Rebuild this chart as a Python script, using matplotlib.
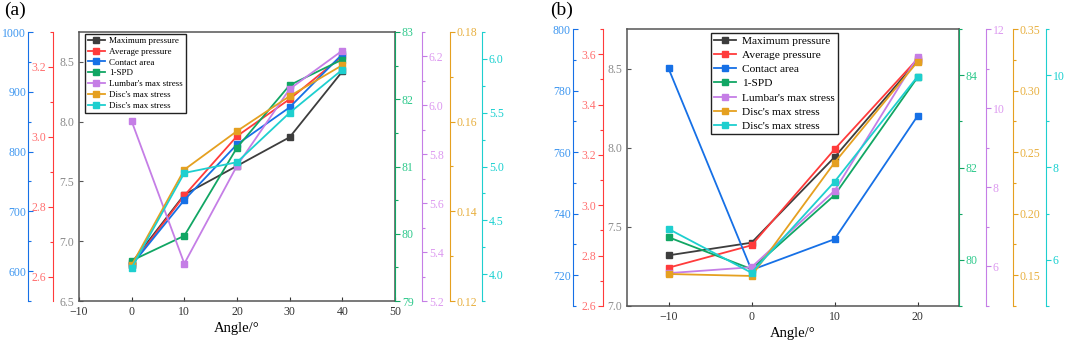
import matplotlib
matplotlib.use('Agg')
import matplotlib.pyplot as plt
from matplotlib.ticker import MultipleLocator, FormatStrFormatter

plt.rcParams['font.family'] = ['Liberation Serif', 'DejaVu Serif']

names = ['Maximum pressure', 'Average pressure', 'Contact area', '1-SPD',
         "Lumbar's max stress", "Disc's max stress", "Disc's max stress"]
line_colors = ['#3d3d3d', '#ff3b3b', '#1670e6', '#11a664', '#c57ee6', '#e5a020', '#1ecfcf']
label_colors = ['#8a8a8a', '#ff7070', '#3d96f0', '#2ec98c', '#dd9af0', '#e8b040', '#19d0d0']

# (a)
angle_a = [0, 10, 20, 30, 40]
max_p_a = [6.82, 7.39, 7.63, 7.87, 8.42]
avg_p_a = [2.633, 2.832, 3.002, 3.108, 3.231]
area_a = [610, 719, 812, 874, 963]
spd_a = [79.6, 79.97, 81.28, 82.21, 82.59]
lumbar_a = [5.935, 5.353, 5.753, 6.067, 6.224]
disc1_a = [0.128, 0.1493, 0.1579, 0.1657, 0.1726]
disc2_a = [4.06, 4.94, 5.04, 5.50, 5.90]

# (b)
angle_b = [-10, 0, 10, 20]
max_p_b = [7.32, 7.40, 7.94, 8.55]
avg_p_b = [2.752, 2.841, 3.222, 3.581]
area_b = [787.2, 721.7, 731.7, 771.7]
spd_b = [80.49, 79.80, 81.40, 83.95]
lumbar_b = [5.83, 5.98, 7.91, 11.29]
disc1_b = [0.151, 0.1494, 0.2414, 0.3234]
disc2_b = [6.67, 5.72, 7.69, 9.97]


def make_panel(fig, rect, x, ys, xlim, xticks, axes_cfg, leg_anchor, leg_fs, leg_sp):
    ax = fig.add_axes(rect)
    ax.set_xlim(*xlim)
    ax.set_xticks(xticks)
    ax.tick_params(axis='x', direction='in', length=3, labelsize=8.5, colors='#333333')
    for s in ax.spines.values():
        s.set_color('#555555')
        s.set_linewidth(1.1)
    ax.set_xlabel('Angle/°', fontsize=10.5, labelpad=3)

    handles = []
    axs = []
    for i, (y, cfg) in enumerate(zip(ys, axes_cfg)):
        lo, hi, major, minor, side, pos, fmt, tdir = cfg
        if i == 0:
            a = ax
        else:
            a = ax.twinx()
            for k in ['top', 'bottom']:
                a.spines[k].set_visible(False)
            other = 'right' if side == 'left' else 'left'
            a.spines[other].set_visible(False)
            a.spines[side].set_visible(True)
            a.spines[side].set_position(('axes', pos))
            a.spines[side].set_color(line_colors[i])
            a.yaxis.set_ticks_position(side)
            a.yaxis.set_label_position(side)
            a.patch.set_visible(False)
        a.set_ylim(lo, hi)
        a.yaxis.set_major_locator(MultipleLocator(major))
        if minor:
            a.yaxis.set_minor_locator(MultipleLocator(minor))
        a.yaxis.set_major_formatter(FormatStrFormatter(fmt))
        if i == 0:
            a.tick_params(axis='y', direction=tdir, length=3, labelsize=8.5,
                          colors='#555555', labelcolor=label_colors[0])
        else:
            a.tick_params(axis='y', which='major', direction=tdir, length=3.5, width=0.8,
                          labelsize=8.5, color=line_colors[i], labelcolor=label_colors[i], pad=1.5)
            a.tick_params(axis='y', which='minor', direction=tdir, length=2, width=0.8,
                          color=line_colors[i])
        ln, = a.plot(x, y, color=line_colors[i], lw=1.3, marker='s', ms=4.5, clip_on=False)
        handles.append(ln)
        axs.append(a)

    axs[-1].legend(handles, names, loc='upper left', bbox_to_anchor=leg_anchor,
                   fontsize=leg_fs, frameon=True, fancybox=False, edgecolor='#222222',
                   framealpha=1, borderpad=0.3, labelspacing=leg_sp, handlelength=1.9,
                   handletextpad=0.5, borderaxespad=0)
    return ax


fig = plt.figure(figsize=(10.65, 3.43), dpi=100)

cfg_a = [
    (6.5, 8.75, 0.5, None, 'left', 0, '%.1f', 'in'),
    (2.53, 3.30, 0.2, 0.1, 'left', -0.0823, '%.1f', 'out'),
    (550, 1000, 100, 50, 'left', -0.161, '%d', 'in'),
    (79, 83, 1, 0.5, 'right', 1.0, '%d', 'out'),
    (5.2, 6.3, 0.2, 0.1, 'right', 1.0854, '%.1f', 'out'),
    (0.12, 0.18, 0.02, 0.01, 'right', 1.174, '%.2f', 'out'),
    (3.75, 6.25, 0.5, 0.25, 'right', 1.275, '%.1f', 'out'),
]
ys_a = [max_p_a, avg_p_a, area_a, spd_a, lumbar_a, disc1_a, disc2_a]
make_panel(fig, [79 / 1065, 42 / 343, 316 / 1065, 269 / 343], angle_a, ys_a,
           (-10, 50), [-10, 0, 10, 20, 30, 40, 50], cfg_a, (0.019, 0.993), 6.5, 0.28)

cfg_b = [
    (7.0, 8.75, 0.5, None, 'left', 0, '%.1f', 'in'),
    (2.6, 3.7, 0.2, 0.1, 'left', -0.0723, '%.1f', 'out'),
    (710, 800, 20, 10, 'left', -0.1627, '%d', 'in'),
    (79, 85, 2, 1, 'right', 1.0, '%d', 'out'),
    (5, 12, 2, 1, 'right', 1.0813, '%d', 'out'),
    (0.125, 0.35, 0.05, 0.025, 'right', 1.1627, '%.2f', 'out'),
    (5, 11, 2, 1, 'right', 1.262, '%d', 'out'),
]
ys_b = [max_p_b, avg_p_b, area_b, spd_b, lumbar_b, disc1_b, disc2_b]
make_panel(fig, [627 / 1065, 37 / 343, 332 / 1065, 277 / 343], angle_b, ys_b,
           (-15, 25), [-10, 0, 10, 20], cfg_b, (0.253, 0.986), 8.2, 0.36)

fig.text(0.004, 0.995, '(a)', fontsize=14, va='top', ha='left')
fig.text(0.517, 0.995, '(b)', fontsize=14, va='top', ha='left')

fig.savefig('out.png', dpi=100)
